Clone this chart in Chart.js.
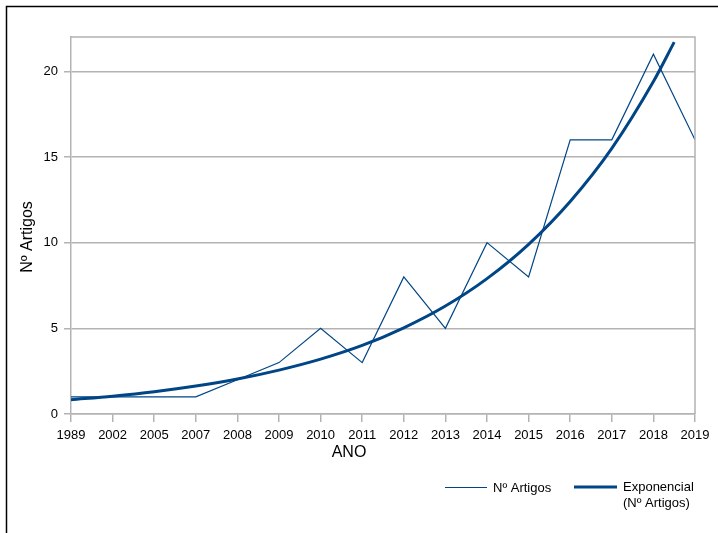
<!DOCTYPE html>
<html>
<head>
<meta charset="utf-8">
<script src="https://cdn.jsdelivr.net/npm/chart.js@4.4.1/dist/chart.umd.min.js"></script>
<style>
  body { margin: 0; background: #fff; }
  canvas { display: block; }
</style>
</head>
<body>
<canvas id="grafico" width="718" height="533"></canvas>
<script>
// Dados
const anos = ['1989', '2002', '2005', '2007', '2008', '2009', '2010', '2011', '2012', '2013', '2014', '2015', '2016', '2017', '2018', '2019'];
const artigos = [1, 1, 1, 1, 2, 3, 5, 3, 8, 5, 10, 8, 16, 16, 21, 16];
// linha de tendência exponencial (valores estimados da imagem)
const tendenciaX = [0, 1, 2, 3, 4, 5, 6, 7, 8, 9, 10, 11, 12, 13, 14, 14.5];
const tendenciaY = [0.83, 1.04, 1.3, 1.63, 2.04, 2.56, 3.2, 4.0, 5.03, 6.3, 7.9, 9.9, 12.4, 15.5, 19.4, 21.7];
const yTicks = [0, 5, 10, 15, 20];

const azul = '#004586';
const cinza = '#b3b3b3';
const fonte = "'Liberation Sans', Arial, sans-serif";

const extras = {
    id: 'extras',
    afterDraw(chart) {
        const ctx = chart.ctx;
        const a = chart.chartArea;
        ctx.save();
        // moldura externa
        ctx.strokeStyle = '#000';
        ctx.lineWidth = 1.5;
        ctx.beginPath();
        ctx.moveTo(6.5, 533);
        ctx.lineTo(6.5, 6.5);
        ctx.lineTo(718, 6.5);
        ctx.stroke();
        // borda superior e direita da área do gráfico
        ctx.strokeStyle = cinza;
        ctx.lineWidth = 1.5;
        ctx.beginPath();
        ctx.moveTo(a.left, a.top);
        ctx.lineTo(a.right, a.top);
        ctx.lineTo(a.right, a.bottom);
        ctx.stroke();
        // títulos dos eixos
        ctx.fillStyle = '#000';
        ctx.font = '16px ' + fonte;
        ctx.textAlign = 'center';
        ctx.textBaseline = 'middle';
        ctx.fillText('ANO', 349, 453);
        ctx.save();
        ctx.translate(28, 237);
        ctx.rotate(-Math.PI / 2);
        ctx.fillText('Nº Artigos', 0, 0);
        ctx.restore();
        // legenda
        ctx.font = '13px ' + fonte;
        ctx.textAlign = 'left';
        ctx.strokeStyle = azul;
        ctx.lineWidth = 1.2;
        ctx.beginPath();
        ctx.moveTo(445, 487.5);
        ctx.lineTo(487, 487.5);
        ctx.stroke();
        ctx.fillText(chart.data.datasets[0].label, 493, 488);
        ctx.lineWidth = 3;
        ctx.beginPath();
        ctx.moveTo(574, 487);
        ctx.lineTo(617, 487);
        ctx.stroke();
        ctx.fillText('Exponencial', 623, 487);
        ctx.fillText('(Nº Artigos)', 623, 503);
        ctx.restore();
    }
};

new Chart(document.getElementById('grafico'), {
    type: 'line',
    data: {
        datasets: [{
            label: 'Nº Artigos',
            data: artigos.map((v, i) => ({ x: i, y: v })),
            borderColor: azul,
            borderWidth: 1.2,
            pointRadius: 0,
            tension: 0
        }, {
            label: 'Exponencial (Nº Artigos)',
            data: tendenciaX.map((x, i) => ({ x: x, y: tendenciaY[i] })),
            borderColor: azul,
            borderWidth: 3,
            pointRadius: 0,
            cubicInterpolationMode: 'monotone'
        }]
    },
    options: {
        responsive: false,
        animation: false,
        layout: { padding: { left: 0, top: 37, right: 23, bottom: 69 } },
        plugins: { legend: { display: false }, tooltip: { enabled: false } },
        scales: {
            x: {
                type: 'linear',
                min: 0,
                max: anos.length - 1,
                afterFit(scale) { scale.height = 50; },
                afterBuildTicks(scale) { scale.ticks = anos.map((_, i) => ({ value: i })); },
                ticks: {
                    autoSkip: false,
                    maxRotation: 0,
                    padding: 6,
                    color: '#000',
                    font: { family: fonte, size: 13 },
                    callback: v => anos[v]
                },
                grid: { drawOnChartArea: false, tickLength: 8, color: cinza, lineWidth: 1.5 },
                border: { color: cinza, width: 1.5 }
            },
            y: {
                min: 0,
                max: 22,
                afterFit(scale) { scale.width = 71; },
                afterBuildTicks(scale) { scale.ticks = yTicks.map(v => ({ value: v })); },
                ticks: {
                    padding: 6,
                    color: '#000',
                    font: { family: fonte, size: 13 }
                },
                grid: { tickLength: 7, color: cinza, lineWidth: 1.5 },
                border: { color: cinza, width: 1.5 }
            }
        }
    },
    plugins: [extras]
});
</script>
</body>
</html>
